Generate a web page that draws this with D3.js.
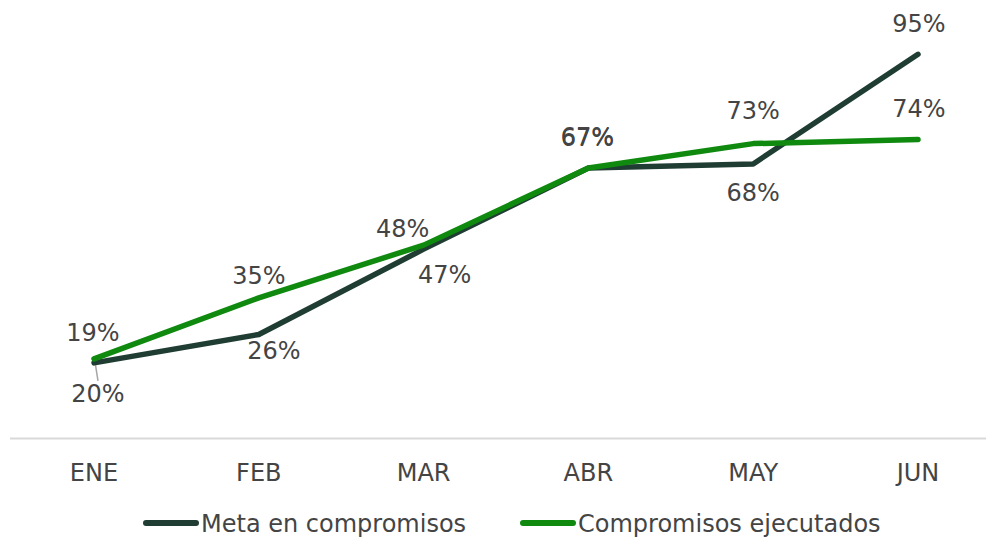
<!DOCTYPE html>
<html>
<head>
<meta charset="utf-8">
<title>Compromisos</title>
<script src="https://d3js.org/d3.v7.min.js"></script>
<style>
  body { margin: 0; background: #fff; }
  text { font-family: "DejaVu Sans", Verdana, sans-serif; fill: #444; }
  .lbl { font-size: 24px; }
</style>
</head>
<body>
<svg width="986" height="537"></svg>
<script>
const months = ['ENE', 'FEB', 'MAR', 'ABR', 'MAY', 'JUN'];
const meta = [19, 26, 47, 67, 68, 95];
const ejecutados = [20, 35, 48, 67, 73, 74];

// label offsets (dx, dy) from each point, as placed in the original
const metaOff = [[-1, -22], [15, 25], [21, 34], [-1, -23], [0, 37], [1, -22]];
const ejecOff = [[4, 43], [0, -14], [-21, -8], [-1, -22], [0, -25], [1, -23]];

const svg = d3.select('svg');
const x = d3.scalePoint().domain(months).range([94, 918]);
const y = d3.scaleLinear().domain([0, 100]).range([440, 34]);

// axis
svg.append('line')
    .attr('x1', 10).attr('x2', 986)
    .attr('y1', 438.5).attr('y2', 438.5)
    .attr('stroke', '#d9d9d9').attr('stroke-width', 2);

svg.selectAll('.tick').data(months)
  .enter().append('text')
    .attr('class', 'lbl')
    .attr('x', d => x(d))
    .attr('y', 481)
    .attr('text-anchor', 'middle')
    .text(d => d);

const series = [
  { name: 'Meta en compromisos', values: meta, off: metaOff, color: '#1f3d33' },
  { name: 'Compromisos ejecutados', values: ejecutados, off: ejecOff, color: '#0f8a0f' }
];

const line = d3.line()
    .x((d, i) => x(months[i]))
    .y(d => y(d));

// leader line for the ENE label of ejecutados
svg.append('line')
    .attr('x1', x('ENE') + 1).attr('y1', y(ejecutados[0]) + 3)
    .attr('x2', x('ENE') + 4).attr('y2', y(ejecutados[0]) + 22)
    .attr('stroke', '#a6a6a6').attr('stroke-width', 1.5);

series.forEach(s => {
  svg.append('path')
      .datum(s.values)
      .attr('d', line)
      .attr('fill', 'none')
      .attr('stroke', s.color)
      .attr('stroke-width', 5.5)
      .attr('stroke-linecap', 'round')
      .attr('stroke-linejoin', 'round');
});

series.forEach(s => {
  svg.selectAll(null).data(s.values)
    .enter().append('text')
      .attr('class', 'lbl')
      .attr('text-anchor', 'middle')
      .attr('x', (d, i) => x(months[i]) + s.off[i][0])
      .attr('y', (d, i) => y(d) + s.off[i][1])
      .text(d => d + '%');
});

// legend
const legend = [
  { s: series[0], x: 146 },
  { s: series[1], x: 523 }
];
legend.forEach(l => {
  svg.append('line')
      .attr('x1', l.x).attr('x2', l.x + 50)
      .attr('y1', 523).attr('y2', 523)
      .attr('stroke', l.s.color)
      .attr('stroke-width', 6)
      .attr('stroke-linecap', 'round');
  svg.append('text')
      .attr('class', 'lbl')
      .attr('x', l.x + 55)
      .attr('y', 532)
      .text(l.s.name);
});
</script>
</body>
</html>
